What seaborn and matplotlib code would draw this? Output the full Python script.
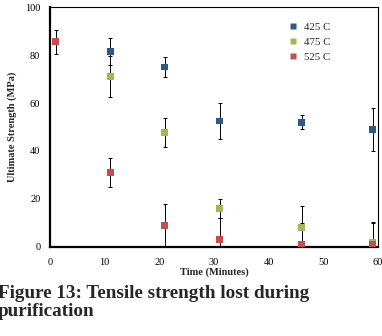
import seaborn as sns
import matplotlib.pyplot as plt
import pandas as pd

# Time (minutes) and ultimate strength (MPa) for each temperature
time_425 = [11, 21, 31, 46, 59]
strength_425 = [81.5, 75, 52.5, 52, 49]
err_425 = [5.5, 4, 7.5, 3, 9]

time_475 = [11, 21, 31, 46, 59]
strength_475 = [71, 47.7, 16, 8, 2]
err_475 = [8.5, 6, 4, 9, 8.5]

time_525 = [1, 11, 21, 31, 46, 59]
strength_525 = [85.5, 31, 9, 3, 1, 1]
err_525 = [5, 6, 9, 9, 9, 9]

labels = ["425 C", "475 C", "525 C"]
colors = ["#2B5A8A", "#9BBB59", "#C0504D"]

frames = []
for lab, t, s, e in zip(labels,
                        [time_425, time_475, time_525],
                        [strength_425, strength_475, strength_525],
                        [err_425, err_475, err_525]):
    frames.append(pd.DataFrame({"time": t, "strength": s, "err": e, "temp": lab}))
df = pd.concat(frames, ignore_index=True)

sns.set_style("white")
plt.rcParams["font.family"] = ["Liberation Serif", "DejaVu Serif"]

fig = plt.figure(figsize=(3.82, 3.36), dpi=100)
ax = fig.add_axes([0.131, 0.265, 0.859, 0.714])

# error bars first, markers on top
for lab, col in zip(labels, colors):
    sub = df[df["temp"] == lab]
    ax.errorbar(sub["time"], sub["strength"], yerr=sub["err"], fmt="none",
                ecolor="black", elinewidth=0.7, capsize=1.5, capthick=0.7, zorder=2)

sns.scatterplot(data=df, x="time", y="strength", hue="temp", palette=colors,
                marker="s", s=24, edgecolor="none", ax=ax, zorder=3)

ax.set_xlim(0, 60)
ax.set_ylim(0, 100)
ax.set_xticks(range(0, 61, 10))
ax.set_yticks(range(0, 101, 20))
ax.tick_params(direction="in", length=3, width=1, labelsize=7.5, colors="black")
ax.tick_params(axis="x", pad=8)
ax.tick_params(axis="y", pad=7)
for side in ["left", "bottom"]:
    ax.spines[side].set_linewidth(1.6)
for side in ["top", "right"]:
    ax.spines[side].set_linewidth(0.8)
for sp in ax.spines.values():
    sp.set_color("black")

ax.set_xlabel("Time (Minutes)", fontsize=7.5, fontweight="bold", labelpad=0)
ax.set_ylabel("Ultimate Strength (MPa)", fontsize=7.5, fontweight="bold", labelpad=6)

leg = ax.legend(title=None, loc="upper left", bbox_to_anchor=(0.695, 0.955),
                frameon=False, fontsize=7.8, handletextpad=0.0, markerscale=0.8,
                labelspacing=0.5, borderaxespad=0)

fig.text(-0.006, 0.1, "Figure 13: Tensile strength lost during\npurification",
         fontsize=13.8, fontweight="bold", ha="left", va="center",
         linespacing=1.1)

fig.savefig("out.png", dpi=100)
